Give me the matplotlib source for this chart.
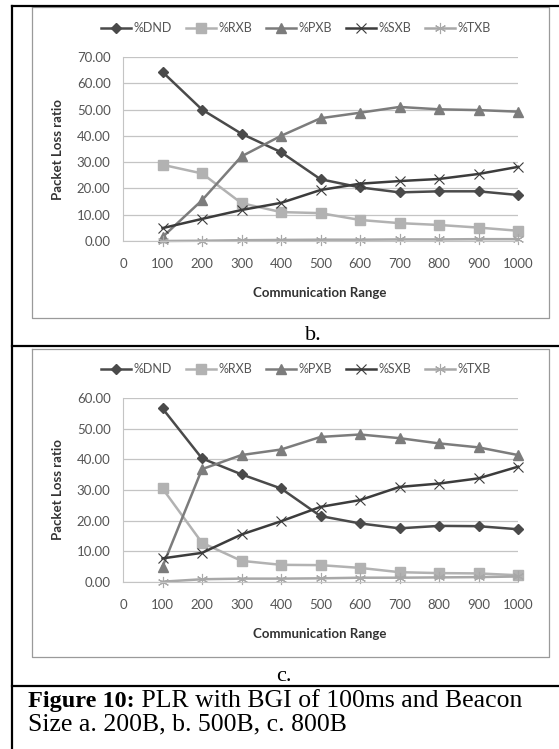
import matplotlib.pyplot as plt
from matplotlib.lines import Line2D

# data
ranges = [100, 200, 300, 400, 500, 600, 700, 800, 900, 1000]
x_ticks = [0, 100, 200, 300, 400, 500, 600, 700, 800, 900, 1000]

# panel b (500B)
b_dnd = [64.3, 50.0, 40.8, 33.8, 23.5, 20.4, 18.5, 18.9, 18.9, 17.5]
b_rxb = [29.0, 25.7, 14.4, 11.0, 10.6, 8.0, 6.8, 6.1, 5.1, 3.9]
b_pxb = [1.5, 15.5, 32.2, 40.0, 46.7, 48.8, 51.0, 50.1, 49.8, 49.2]
b_sxb = [4.9, 8.4, 11.8, 14.5, 19.4, 21.8, 22.8, 23.6, 25.5, 28.2]
b_txb = [0.0, 0.1, 0.3, 0.4, 0.5, 0.5, 0.6, 0.6, 0.7, 0.7]

# panel c (800B)
c_dnd = [56.6, 40.3, 35.1, 30.5, 21.5, 19.1, 17.5, 18.3, 18.2, 17.2]
c_rxb = [30.5, 12.8, 6.9, 5.6, 5.5, 4.6, 3.2, 2.9, 2.8, 2.2]
c_pxb = [5.0, 36.8, 41.4, 43.2, 47.3, 48.1, 46.9, 45.2, 43.9, 41.4]
c_sxb = [7.7, 9.5, 15.5, 19.8, 24.5, 26.7, 31.0, 32.1, 33.8, 37.6]
c_txb = [0.1, 0.9, 1.1, 1.1, 1.2, 1.4, 1.4, 1.5, 1.6, 1.8]

names = ['%DND', '%RXB', '%PXB', '%SXB', '%TXB']
colors = ['#4a4a4a', '#b2b2b2', '#7c7c7c', '#3c3c3c', '#a8a8a8']
markers = ['D', 's', '^', 'x', (6, 2, 0)]
msizes = [5, 7, 7, 7, 8]
mews = [1, 1, 1, 0.8, 0.8]

W, H = 559, 749
fig = plt.figure(figsize=(W / 100, H / 100), dpi=100)
plt.rcParams['font.family'] = ['Lato', 'DejaVu Sans']


def px(x0, y0, x1, y1):
    # pixel box -> figure fraction [left, bottom, width, height]
    return [x0 / W, 1 - y1 / H, (x1 - x0) / W, (y1 - y0) / H]


def fig_line(xs, ys, **kw):
    fig.add_artist(Line2D([x / W for x in xs], [1 - y / H for y in ys],
                          transform=fig.transFigure, **kw))


def draw_panel(box, series, ymax):
    ax = fig.add_axes(box)
    for vals, nm, c, m, s, mw in zip(series, names, colors, markers, msizes, mews):
        ax.plot(ranges, vals, color=c, lw=1.8, marker=m, ms=s, mew=mw,
                mec=c, mfc=c, label=nm, clip_on=False)
    ax.set_xlim(0, 1000)
    ax.set_ylim(0, ymax)
    ax.set_xticks(x_ticks)
    ax.set_yticks(range(0, ymax + 1, 10))
    ax.set_yticklabels([f'{v:.2f}' for v in range(0, ymax + 1, 10)])
    ax.tick_params(length=0, labelsize=9.5, labelcolor='#555555', pad=9)
    ax.tick_params(axis='x', pad=12)
    ax.grid(axis='y', color='#c4c4c4', lw=0.9)
    ax.set_axisbelow(True)
    for sp in ['top', 'right']:
        ax.spines[sp].set_visible(False)
    for sp in ['left', 'bottom']:
        ax.spines[sp].set_color('#c4c4c4')
    ax.set_ylabel('Packet Loss ratio', fontsize=9.5, fontweight='bold',
                  color='#333333', va='center')
    ax.set_xlabel('Communication Range', fontsize=9.5, fontweight='bold',
                  color='#333333', va='center')
    ax.yaxis.set_label_coords((58 - 123) / 395, 0.5)
    ax.xaxis.set_label_coords((320 - 123) / 395, -52 / 184)
    ax.legend(loc='center', bbox_to_anchor=((296 - 123) / 395, 1 + 29 / 184),
              ncol=5, frameon=False, fontsize=9, handlelength=2.4,
              columnspacing=1.1, handletextpad=0.2, labelcolor='#555555')
    return ax


draw_panel(px(123, 57, 518, 241), [b_dnd, b_rxb, b_pxb, b_sxb, b_txb], 70)
draw_panel(px(123, 398, 518, 582), [c_dnd, c_rxb, c_pxb, c_sxb, c_txb], 60)

# chart frames
for y0, y1 in [(7, 318), (349, 657)]:
    fig_line([32, 549, 549, 32, 32], [y0, y0, y1, y1, y0], color='#9a9a9a', lw=0.9)

# table lines
fig_line([12, 12], [6, 749], color='black', lw=1.6)
fig_line([12, 559], [6, 6], color='black', lw=1.6)
fig_line([12, 559], [346, 346], color='black', lw=1.6)
fig_line([12, 559], [686, 686], color='black', lw=1.6)

serif = ['Liberation Serif', 'DejaVu Serif']
fig.text(313 / W, 1 - 340 / H, 'b.', ha='center', va='baseline', fontsize=16, family=serif)
fig.text(284 / W, 1 - 681 / H, 'c.', ha='center', va='baseline', fontsize=16, family=serif)
t = fig.text(28 / W, 1 - 707 / H, 'Figure 10:', ha='left', va='baseline',
             fontsize=17.5, family=serif, fontweight='bold')
fig.canvas.draw()
bb = t.get_window_extent()
fig.text(bb.x1 / W, 1 - 707 / H, ' PLR with BGI of 100ms and Beacon', ha='left',
         va='baseline', fontsize=18.5, family=serif)
fig.text(28 / W, 1 - 730 / H, 'Size a. 200B, b. 500B, c. 800B', ha='left',
         va='baseline', fontsize=18.5, family=serif)

plt.savefig('out.png', dpi=100)
